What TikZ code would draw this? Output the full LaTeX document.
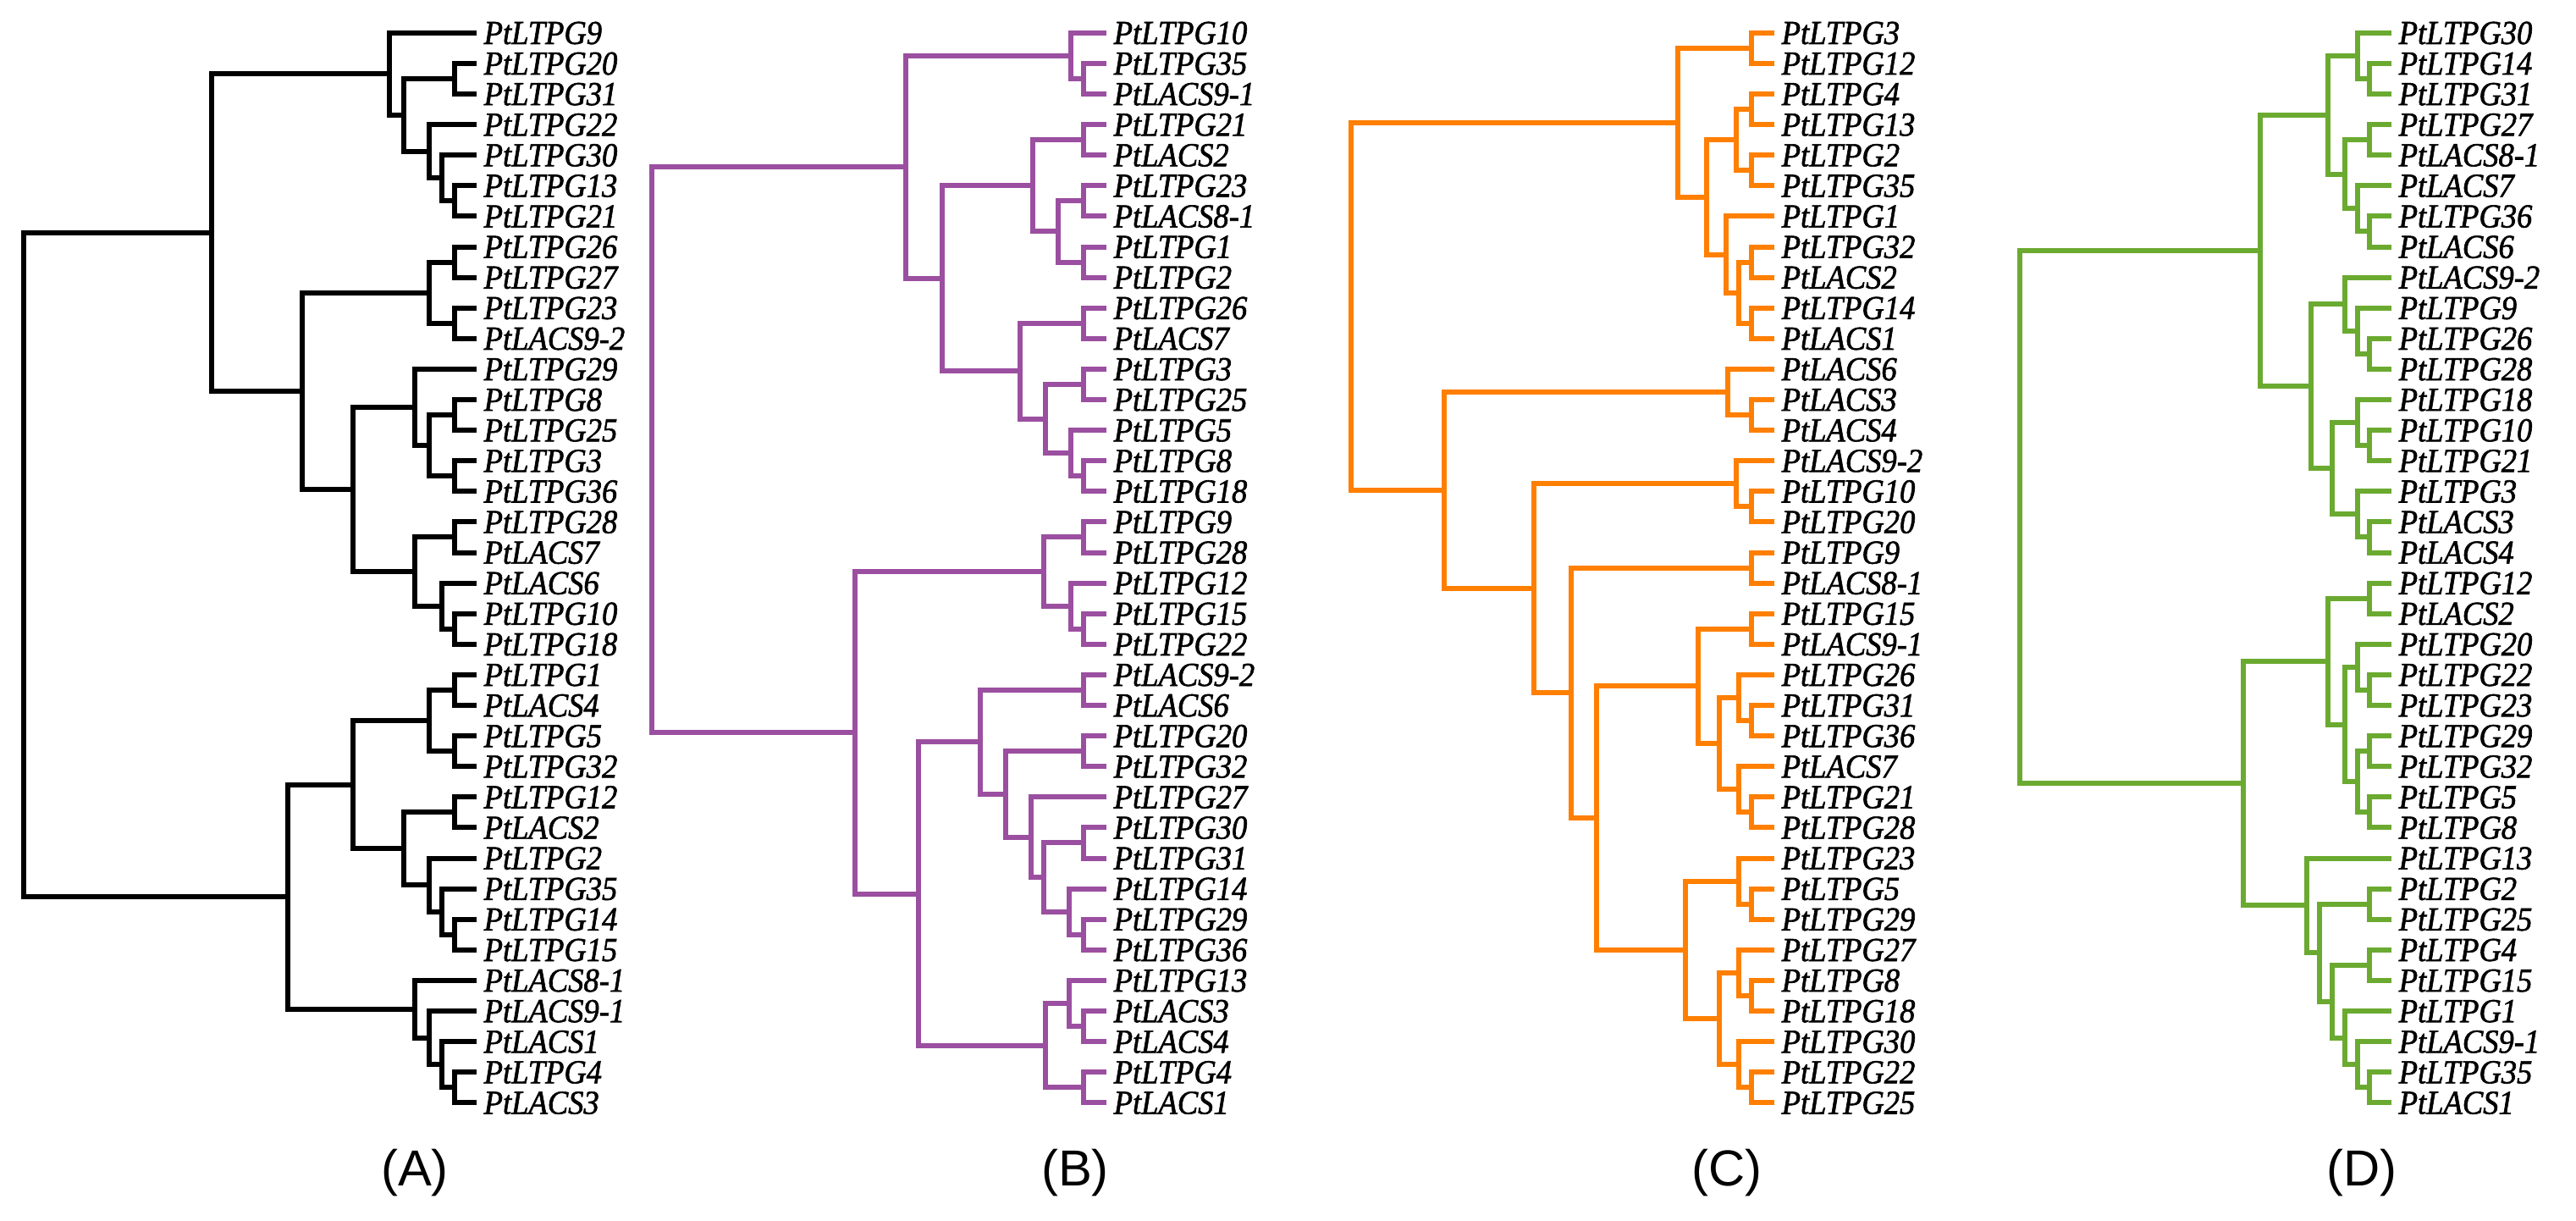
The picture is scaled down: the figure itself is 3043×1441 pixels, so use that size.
\documentclass[tikz,border=0pt]{standalone}
\usepackage{fontspec}
\setmainfont{Liberation Serif}
\setsansfont{Liberation Sans}
\newfontface\labfont{Liberation Serif Italic}[FakeBold=1.5,FakeStretch=0.92]
\usetikzlibrary{calc}
\definecolor{bpurple}{RGB}{155,79,160}
\definecolor{corange}{RGB}{255,127,0}
\definecolor{dgreen}{RGB}{107,170,48}
\newcommand\jn[4]{\path let \p1=($(#3)!.5!(#4)$), \p2=(#2,0) in coordinate (#1) at (\x2,\y1);
  \draw[br] (#3) -| (#1) |- (#4);}
\newcommand\leafset[3]{\foreach \n [count=\i from 0] in {#3} {%
  \coordinate (#1\i) at (#2,{38.8+36.1*\i});
  \node[lab] (#1L\i) at (#1\i) {Pt\n};}}
\begin{document}
\begin{tikzpicture}[x=0.1mm,y=-0.1mm,
  br/.style={line width=0.6mm},
  lab/.style={anchor=west,inner sep=0pt,xshift=0.8mm,text=black,
    font=\labfont\fontsize{11.3}{12}\selectfont,text height=7.5pt,text depth=0pt},
  panel/.style={font=\sffamily\fontsize{17}{20}\selectfont,text=black}]
\useasboundingbox (0,0) rectangle (3043,1441);
% ---------------- Tree A
\begin{scope}[black]
\leafset{a}{563}{LTPG9,LTPG20,LTPG31,LTPG22,LTPG30,LTPG13,LTPG21,LTPG26,LTPG27,LTPG23,LACS9-2,LTPG29,LTPG8,LTPG25,LTPG3,LTPG36,LTPG28,LACS7,LACS6,LTPG10,LTPG18,LTPG1,LACS4,LTPG5,LTPG32,LTPG12,LACS2,LTPG2,LTPG35,LTPG14,LTPG15,LACS8-1,LACS9-1,LACS1,LTPG4,LACS3}
\jn{an1}{537}{a1}{a2}
\jn{an2}{537}{a5}{a6}
\jn{an3}{522}{a4}{an2}
\jn{an4}{507}{a3}{an3}
\jn{an5}{477}{an1}{an4}
\jn{an6}{460}{a0}{an5}
\jn{an7}{537}{a7}{a8}
\jn{an8}{537}{a9}{a10}
\jn{an9}{507}{an7}{an8}
\jn{an10}{537}{a12}{a13}
\jn{an11}{537}{a14}{a15}
\jn{an12}{507}{an10}{an11}
\jn{an13}{490}{a11}{an12}
\jn{an14}{537}{a16}{a17}
\jn{an15}{537}{a19}{a20}
\jn{an16}{522}{a18}{an15}
\jn{an17}{490}{an14}{an16}
\jn{an18}{417}{an13}{an17}
\jn{an19}{357}{an9}{an18}
\jn{an20}{250}{an6}{an19}
\jn{an21}{537}{a21}{a22}
\jn{an22}{537}{a23}{a24}
\jn{an23}{507}{an21}{an22}
\jn{an24}{537}{a25}{a26}
\jn{an25}{537}{a29}{a30}
\jn{an26}{522}{a28}{an25}
\jn{an27}{507}{a27}{an26}
\jn{an28}{477}{an24}{an27}
\jn{an29}{417}{an23}{an28}
\jn{an30}{537}{a34}{a35}
\jn{an31}{522}{a33}{an30}
\jn{an32}{507}{a32}{an31}
\jn{an33}{490}{a31}{an32}
\jn{an34}{340}{an29}{an33}
\jn{an35}{28}{an20}{an34}
\end{scope}
% ---------------- Tree B
\begin{scope}[bpurple]
\leafset{b}{1307}{LTPG10,LTPG35,LACS9-1,LTPG21,LACS2,LTPG23,LACS8-1,LTPG1,LTPG2,LTPG26,LACS7,LTPG3,LTPG25,LTPG5,LTPG8,LTPG18,LTPG9,LTPG28,LTPG12,LTPG15,LTPG22,LACS9-2,LACS6,LTPG20,LTPG32,LTPG27,LTPG30,LTPG31,LTPG14,LTPG29,LTPG36,LTPG13,LACS3,LACS4,LTPG4,LACS1}
\jn{bn1}{1280}{b1}{b2}
\jn{bn2}{1265}{b0}{bn1}
\jn{bn3}{1280}{b3}{b4}
\jn{bn4}{1280}{b5}{b6}
\jn{bn5}{1280}{b7}{b8}
\jn{bn6}{1250}{bn4}{bn5}
\jn{bn7}{1220}{bn3}{bn6}
\jn{bn8}{1280}{b9}{b10}
\jn{bn9}{1280}{b11}{b12}
\jn{bn10}{1280}{b14}{b15}
\jn{bn11}{1265}{b13}{bn10}
\jn{bn12}{1235}{bn9}{bn11}
\jn{bn13}{1205}{bn8}{bn12}
\jn{bn14}{1113}{bn7}{bn13}
\jn{bn15}{1070}{bn2}{bn14}
\jn{bn16}{1280}{b16}{b17}
\jn{bn17}{1280}{b19}{b20}
\jn{bn18}{1265}{b18}{bn17}
\jn{bn19}{1233}{bn16}{bn18}
\jn{bn20}{1280}{b21}{b22}
\jn{bn21}{1280}{b23}{b24}
\jn{bn22}{1280}{b26}{b27}
\jn{bn23}{1280}{b29}{b30}
\jn{bn24}{1263}{b28}{bn23}
\jn{bn25}{1233}{bn22}{bn24}
\jn{bn26}{1218}{b25}{bn25}
\jn{bn27}{1188}{bn21}{bn26}
\jn{bn28}{1158}{bn20}{bn27}
\jn{bn29}{1280}{b32}{b33}
\jn{bn30}{1263}{b31}{bn29}
\jn{bn31}{1280}{b34}{b35}
\jn{bn32}{1235}{bn30}{bn31}
\jn{bn33}{1085}{bn28}{bn32}
\jn{bn34}{1010}{bn19}{bn33}
\jn{bn35}{770}{bn15}{bn34}
\end{scope}
% ---------------- Tree C
\begin{scope}[corange,xshift=0.6mm]
\leafset{c}{2090}{LTPG3,LTPG12,LTPG4,LTPG13,LTPG2,LTPG35,LTPG1,LTPG32,LACS2,LTPG14,LACS1,LACS6,LACS3,LACS4,LACS9-2,LTPG10,LTPG20,LTPG9,LACS8-1,LTPG15,LACS9-1,LTPG26,LTPG31,LTPG36,LACS7,LTPG21,LTPG28,LTPG23,LTPG5,LTPG29,LTPG27,LTPG8,LTPG18,LTPG30,LTPG22,LTPG25}
\jn{cn1}{2063}{c0}{c1}
\jn{cn2}{2063}{c2}{c3}
\jn{cn3}{2063}{c4}{c5}
\jn{cn4}{2045}{cn2}{cn3}
\jn{cn5}{2063}{c7}{c8}
\jn{cn6}{2063}{c9}{c10}
\jn{cn7}{2048}{cn5}{cn6}
\jn{cn8}{2033}{c6}{cn7}
\jn{cn9}{2010}{cn4}{cn8}
\jn{cn10}{1976}{cn1}{cn9}
\jn{cn11}{2063}{c12}{c13}
\jn{cn12}{2035}{c11}{cn11}
\jn{cn13}{2063}{c15}{c16}
\jn{cn14}{2045}{c14}{cn13}
\jn{cn15}{2063}{c17}{c18}
\jn{cn16}{2063}{c19}{c20}
\jn{cn17}{2063}{c22}{c23}
\jn{cn18}{2048}{c21}{cn17}
\jn{cn19}{2063}{c25}{c26}
\jn{cn20}{2048}{c24}{cn19}
\jn{cn21}{2025}{cn18}{cn20}
\jn{cn22}{2000}{cn16}{cn21}
\jn{cn23}{2063}{c28}{c29}
\jn{cn24}{2048}{c27}{cn23}
\jn{cn25}{2063}{c31}{c32}
\jn{cn26}{2048}{c30}{cn25}
\jn{cn27}{2063}{c34}{c35}
\jn{cn28}{2048}{c33}{cn27}
\jn{cn29}{2025}{cn26}{cn28}
\jn{cn30}{1985}{cn24}{cn29}
\jn{cn31}{1880}{cn22}{cn30}
\jn{cn32}{1850}{cn15}{cn31}
\jn{cn33}{1806}{cn14}{cn32}
\jn{cn34}{1700}{cn12}{cn33}
\jn{cn35}{1590}{cn10}{cn34}
\end{scope}
% ---------------- Tree D
\begin{scope}[dgreen,xshift=1mm]
\leafset{d}{2815}{LTPG30,LTPG14,LTPG31,LTPG27,LACS8-1,LACS7,LTPG36,LACS6,LACS9-2,LTPG9,LTPG26,LTPG28,LTPG18,LTPG10,LTPG21,LTPG3,LACS3,LACS4,LTPG12,LACS2,LTPG20,LTPG22,LTPG23,LTPG29,LTPG32,LTPG5,LTPG8,LTPG13,LTPG2,LTPG25,LTPG4,LTPG15,LTPG1,LACS9-1,LTPG35,LACS1}
\jn{dn1}{2789}{d1}{d2}
\jn{dn2}{2775}{d0}{dn1}
\jn{dn3}{2789}{d3}{d4}
\jn{dn4}{2789}{d6}{d7}
\jn{dn5}{2775}{d5}{dn4}
\jn{dn6}{2760}{dn3}{dn5}
\jn{dn7}{2740}{dn2}{dn6}
\jn{dn8}{2789}{d10}{d11}
\jn{dn9}{2775}{d9}{dn8}
\jn{dn10}{2760}{d8}{dn9}
\jn{dn11}{2789}{d13}{d14}
\jn{dn12}{2775}{d12}{dn11}
\jn{dn13}{2789}{d16}{d17}
\jn{dn14}{2775}{d15}{dn13}
\jn{dn15}{2745}{dn12}{dn14}
\jn{dn16}{2720}{dn10}{dn15}
\jn{dn17}{2660}{dn7}{dn16}
\jn{dn18}{2789}{d18}{d19}
\jn{dn19}{2789}{d21}{d22}
\jn{dn20}{2775}{d20}{dn19}
\jn{dn21}{2789}{d23}{d24}
\jn{dn22}{2789}{d25}{d26}
\jn{dn23}{2775}{dn21}{dn22}
\jn{dn24}{2760}{dn20}{dn23}
\jn{dn25}{2740}{dn18}{dn24}
\jn{dn26}{2789}{d28}{d29}
\jn{dn27}{2789}{d30}{d31}
\jn{dn28}{2789}{d34}{d35}
\jn{dn29}{2775}{d33}{dn28}
\jn{dn30}{2760}{d32}{dn29}
\jn{dn31}{2745}{dn27}{dn30}
\jn{dn32}{2730}{dn26}{dn31}
\jn{dn33}{2715}{d27}{dn32}
\jn{dn34}{2640}{dn25}{dn33}
\jn{dn35}{2376}{dn17}{dn34}
\end{scope}
\node[panel] (pA) at (490,1385) {(A)};
\node[panel] (pB) at (1270,1385) {(B)};
\node[panel] (pC) at (2040,1385) {(C)};
\node[panel] (pD) at (2790,1385) {(D)};
\end{tikzpicture}
\end{document}
